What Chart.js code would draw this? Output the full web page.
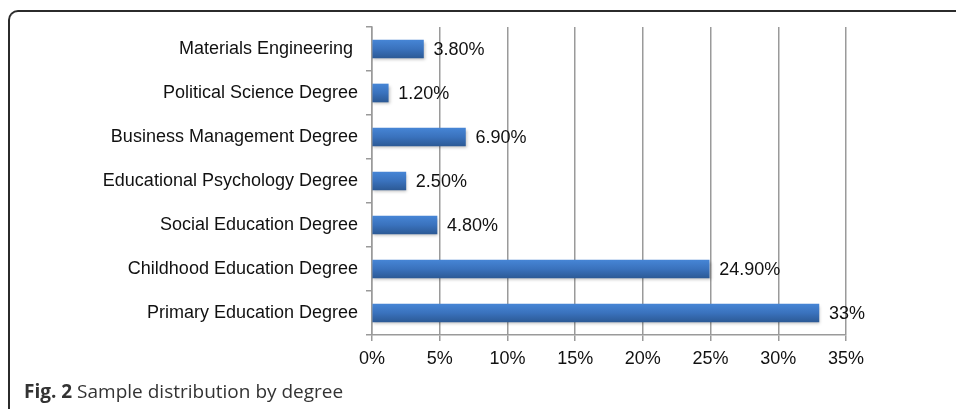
<!DOCTYPE html>
<html>
<head>
<meta charset="utf-8">
<script src="https://cdn.jsdelivr.net/npm/chart.js@4"></script>
<style>
  html, body { margin: 0; padding: 0; background: #fff; }
  #wrap { position: relative; width: 956px; height: 409px; overflow: hidden; }
  #frame {
    position: absolute; left: 8px; top: 10px; width: 1000px; height: 420px;
    border: 2px solid #2b2b2b; border-right: none; border-bottom: none;
    border-top-left-radius: 10px; box-sizing: border-box;
  }
  #chart { position: absolute; left: 0; top: 0; }
  #caption {
    position: absolute; left: 24px; top: 378px;
    font-family: "Open Sans", sans-serif; font-size: 19px; color: #333;
  }
</style>
</head>
<body>
<div id="wrap">
  <div id="frame"></div>
  <canvas id="chart" width="956" height="409"></canvas>
  <div id="caption"><b>Fig. 2</b> Sample distribution by degree</div>
</div>
<script>
document.addEventListener('DOMContentLoaded', function () {
  // Data (top to bottom)
  const degrees = [
    'Materials Engineering ',
    'Political Science Degree',
    'Business Management Degree',
    'Educational Psychology Degree',
    'Social Education Degree',
    'Childhood Education Degree',
    'Primary Education Degree'
  ];
  const shares = [3.8, 1.2, 6.9, 2.5, 4.8, 24.9, 33];
  const shareLabels = ['3.80%', '1.20%', '6.90%', '2.50%', '4.80%', '24.90%', '33%'];
  const xTicks = [0, 5, 10, 15, 20, 25, 30, 35];

  const font = { family: '"Liberation Sans", Arial, sans-serif', size: 18 };

  // Vertical gradient for each bar (lighter top, darker bottom)
  function barFill(ctx) {
    const chart = ctx.chart;
    const y = chart.scales.y;
    if (!y || ctx.dataIndex === undefined) return '#3a72bd';
    const c = y.getPixelForValue(ctx.dataIndex);
    if (!isFinite(c)) return '#3a72bd';
    const g = chart.ctx.createLinearGradient(0, c - 9, 0, c + 9);
    g.addColorStop(0, '#4685d5');
    g.addColorStop(0.5, '#3a72bd');
    g.addColorStop(1, '#2c5a96');
    return g;
  }

  // Soft drop shadow under the bars
  const shadowPlugin = {
    id: 'barShadow',
    beforeDatasetDraw(chart) {
      const c = chart.ctx;
      c.save();
      c.shadowColor = 'rgba(0,0,0,0.25)';
      c.shadowBlur = 3;
      c.shadowOffsetX = 1;
      c.shadowOffsetY = 2;
    },
    afterDatasetDraw(chart) {
      chart.ctx.restore();
    }
  };

  // Value labels to the right of each bar
  const valueLabels = {
    id: 'valueLabels',
    afterDatasetsDraw(chart) {
      const c = chart.ctx;
      const meta = chart.getDatasetMeta(0);
      c.save();
      c.font = font.size + 'px ' + font.family;
      c.fillStyle = '#111';
      c.textAlign = 'left';
      c.textBaseline = 'middle';
      meta.data.forEach(function (bar, i) {
        c.fillText(shareLabels[i], bar.x + 10, bar.y + 1);
      });
      c.restore();
    }
  };

  new Chart(document.getElementById('chart'), {
    type: 'bar',
    data: {
      labels: degrees,
      datasets: [{
        data: shares,
        backgroundColor: barFill,
        borderWidth: 0,
        barThickness: 18
      }]
    },
    plugins: [shadowPlugin, valueLabels],
    options: {
      indexAxis: 'y',
      responsive: false,
      animation: false,
      layout: { padding: { left: 0, right: 110, top: 27, bottom: 44 } },
      plugins: { legend: { display: false }, tooltip: { enabled: false } },
      scales: {
        x: {
          min: 0,
          max: 35,
          afterBuildTicks(scale) { scale.ticks = xTicks.map(v => ({ value: v })); },
          afterFit(scale) { scale.height = 30; },
          ticks: {
            color: '#111',
            font: font,
            padding: 7,
            callback: v => v + '%'
          },
          grid: { color: '#9a9a9a', lineWidth: 1.5, tickLength: 6 },
          border: { color: '#9a9a9a', width: 1.5 }
        },
        y: {
          afterFit(scale) { scale.width = 372; },
          ticks: { color: '#111', font: font, padding: 8 },
          grid: { drawOnChartArea: false, color: '#9a9a9a', lineWidth: 1.5, tickLength: 6, offset: true },
          border: { color: '#9a9a9a', width: 1.5 }
        }
      }
    }
  });
});
</script>
</body>
</html>
